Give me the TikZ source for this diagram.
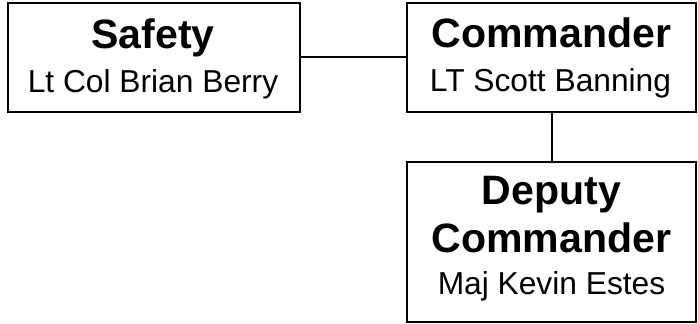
\documentclass[tikz,border=0pt]{standalone}
\usepackage{fontspec}
\setmainfont{Liberation Sans}
\begin{document}
\begin{tikzpicture}[x=0.75pt,y=-0.75pt,
  box/.style={draw=black,line width=1.5pt,inner sep=0pt,fill=white},
  ttl/.style={anchor=base,inner sep=0pt,font=\fontsize{30.8}{36}\selectfont\bfseries},
  sub/.style={anchor=base,inner sep=0pt,font=\fontsize{23.8}{28}\selectfont},
  link/.style={draw=black,line width=1.5pt}]
\useasboundingbox (0,0) rectangle (698,324);
\node[box,minimum width=219pt,minimum height=81.75pt] (safety) at (154,57.5) {};
\node[box,minimum width=216.75pt,minimum height=81.75pt] (cmd) at (551.5,57.5) {};
\node[box,minimum width=216.75pt,minimum height=120pt] (dep) at (551.5,242) {};
\draw[link] (safety) -- (cmd);
\draw[link] (cmd.south) -- (dep.north);
\node[ttl] (t1) at (153,49) {Safety};
\node[sub] (s1) at (153,93) {Lt Col Brian Berry};
\node[ttl] (t2) at (551.5,48) {Commander};
\node[sub] (s2) at (550.5,92) {LT Scott Banning};
\node[ttl] (t3a) at (551.5,204) {Deputy};
\node[ttl] (t3b) at (551.5,252) {Commander};
\node[sub] (s3) at (551.5,294) {Maj Kevin Estes};
\end{tikzpicture}
\end{document}
